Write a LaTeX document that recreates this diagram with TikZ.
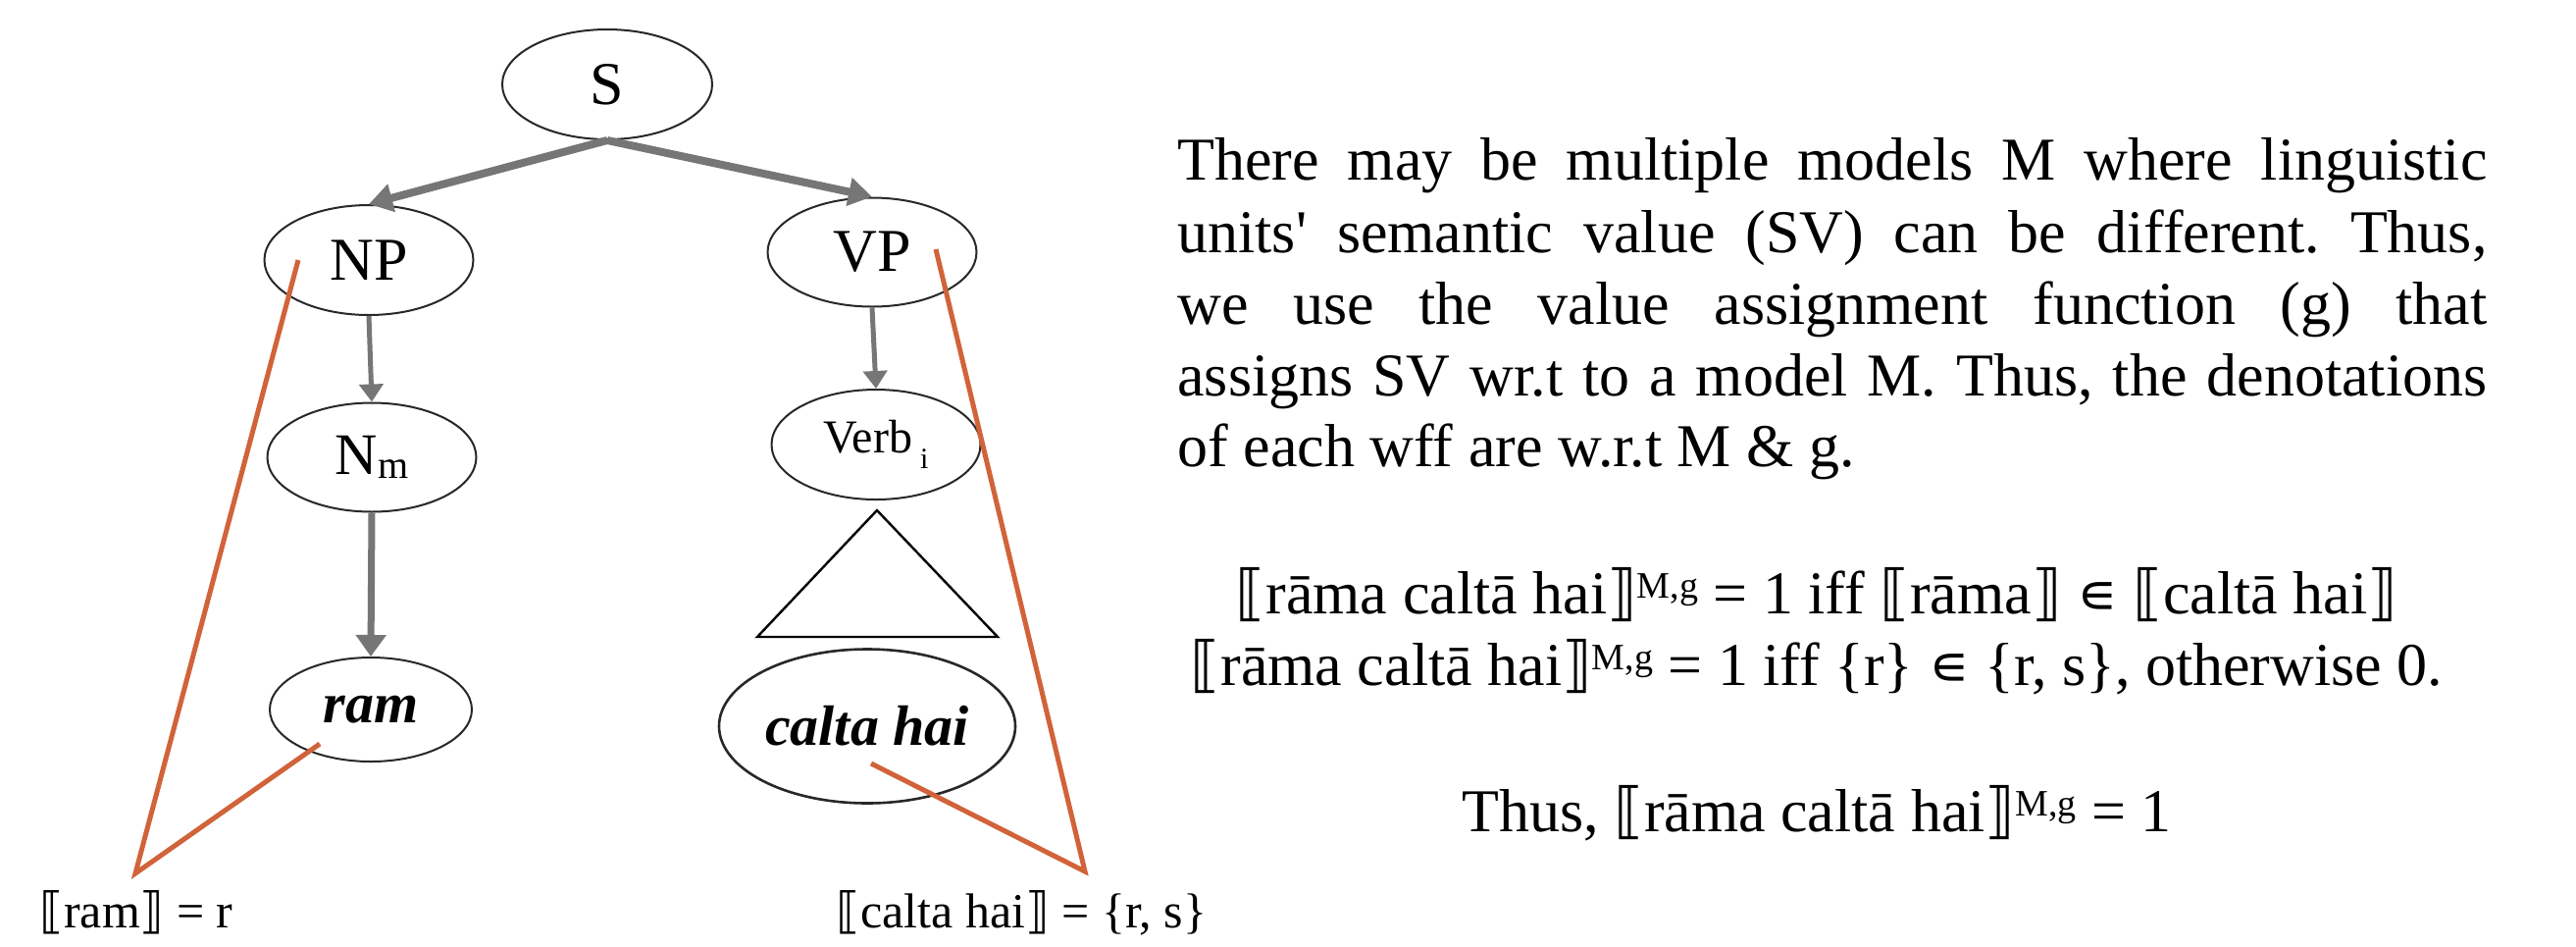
\documentclass[tikz,border=0pt]{standalone}
\usepackage{fontspec}
\setmainfont{Liberation Serif}[Ligatures=TeXOff]
\newfontfamily\symf{DejaVu Sans}
\usetikzlibrary{shapes.geometric,arrows.meta}
\definecolor{orng}{RGB}{209,99,58}
\definecolor{arrgray}{RGB}{118,118,118}
\definecolor{outl}{RGB}{40,40,40}
\newcommand{\lbk}{{\symf ⟦}}
\newcommand{\rbk}{{\symf ⟧}}
\newcommand{\elm}{{\symf\fontsize{29}{29}\selectfont ∊}}
\newcommand{\sups}[1]{\raisebox{8pt}{\fontsize{19}{19}\selectfont #1}}
\frenchspacing
\begin{document}
\frenchspacing
\begin{tikzpicture}[x=0.5pt,y=-0.5pt,
  treenode/.style={ellipse, draw=outl, line width=1pt, inner sep=0pt, font=\fontsize{31}{31}\selectfont},
  garrow/.style={draw=arrgray},
  semline/.style={draw=orng, line width=2.5pt},
  paraline/.style={anchor=base west, inner sep=0pt, font=\fontsize{31}{36.5}\selectfont},
  formline/.style={anchor=base, inner sep=0pt, font=\fontsize{31}{36.5}\selectfont},
  lablabel/.style={anchor=base west, inner sep=0pt, font=\fontsize{25}{25}\selectfont}
  ]
\fill[white] (0,0) rectangle (2626,964);
\useasboundingbox (0,0) rectangle (2626,964);

% tree nodes
\node[treenode, minimum width=107pt, minimum height=56pt] (S) at (619,86) {S};
\node[treenode, minimum width=106.5pt, minimum height=56pt] (NP) at (376,265) {NP};
\node[treenode, minimum width=106.5pt, minimum height=55.5pt] (VP) at (889,257) {VP};
\node[treenode, minimum width=106.5pt, minimum height=55.5pt, font=\fontsize{30}{30}\selectfont] (Nm) at (379,466) {N\raisebox{-2pt}{\fontsize{20}{20}\selectfont m}};
\node[treenode, minimum width=106.5pt, minimum height=56pt, font=\fontsize{24}{24}\selectfont] (Verb) at (893,453) {Verb\,\raisebox{-8pt}{\fontsize{15}{15}\selectfont i}};
\node[treenode, minimum width=103pt, minimum height=53pt, font=\fontsize{29}{29}\selectfont\bfseries\itshape] (ram) at (378,723) {ram};
\node[treenode, line width=1.3pt, minimum width=151pt, minimum height=78.5pt, font=\fontsize{29}{29}\selectfont\bfseries\itshape] (calta) at (884,740) {calta hai};

% triangle
\coordinate (tA) at (894,520);
\coordinate (tB) at (1017,649);
\coordinate (tC) at (772,649);
\draw[draw=black, line width=1.2pt, line join=miter] (tA) -- (tB) -- (tC) -- cycle;

% arrows
\draw[garrow, line width=4pt, -{Triangle[length=12pt,width=14pt]}] (S.south) -- (NP.north);
\draw[garrow, line width=4pt, -{Triangle[length=12pt,width=14pt]}] (S.south) -- (VP.north);
\draw[garrow, line width=2.5pt, -{Triangle[length=9pt,width=12pt]}] (NP.south) -- (Nm.north);
\draw[garrow, line width=2.5pt, -{Triangle[length=9pt,width=12pt]}] (VP.south) -- (Verb.north);
\draw[garrow, line width=3.5pt, -{Triangle[length=11pt,width=15pt]}] (Nm.south) -- (ram.north);

% bottom labels
\node[lablabel] (ramlab) at (40,945) {\lbk ram\rbk{} = r};
\node[lablabel] (caltalab) at (852,945) {\lbk calta hai\rbk{} = \{r, s\}};

% orange lines
\coordinate (npin) at (304,265);
\coordinate (vpin) at (954,254);
\coordinate (ramin) at (326,758);
\coordinate (caltain) at (888,778);
\coordinate (lv) at (138,890);
\coordinate (rv) at (1106,888);
\draw[semline, line join=miter] (npin) -- (lv) -- (ramin);
\draw[semline, line join=miter] (vpin) -- (rv) -- (caltain);

% paragraph
\node[paraline] (p1) at (1200,183) {\makebox[667.5pt][s]{There may be multiple models M where linguistic}};
\node[paraline] (p2) at (1200,257) {\makebox[667.5pt][s]{units' semantic value (SV) can be different. Thus,}};
\node[paraline] (p3) at (1200,330) {\makebox[667.5pt][s]{we use the value assignment function (g) that}};
\node[paraline] (p4) at (1200,403) {\makebox[667.5pt][s]{assigns SV wr.t to a model M. Thus, the denotations}};
\node[paraline] (p5) at (1200,475) {of each wff are w.r.t M \& g.};

% formulas
\node[formline] (f1) at (1852,625) {\lbk rāma caltā hai\rbk\sups{M,g} = 1 iff \lbk rāma\rbk{} \elm{} \lbk caltā hai\rbk};
\node[formline] (f2) at (1852,698) {\lbk rāma caltā hai\rbk\sups{M,g} = 1 iff \{r\} \elm{} \{r, s\}, otherwise 0.};
\node[formline] (f3) at (1852,847) {Thus, \lbk rāma caltā hai\rbk\sups{M,g} = 1};
\end{tikzpicture}
\end{document}
